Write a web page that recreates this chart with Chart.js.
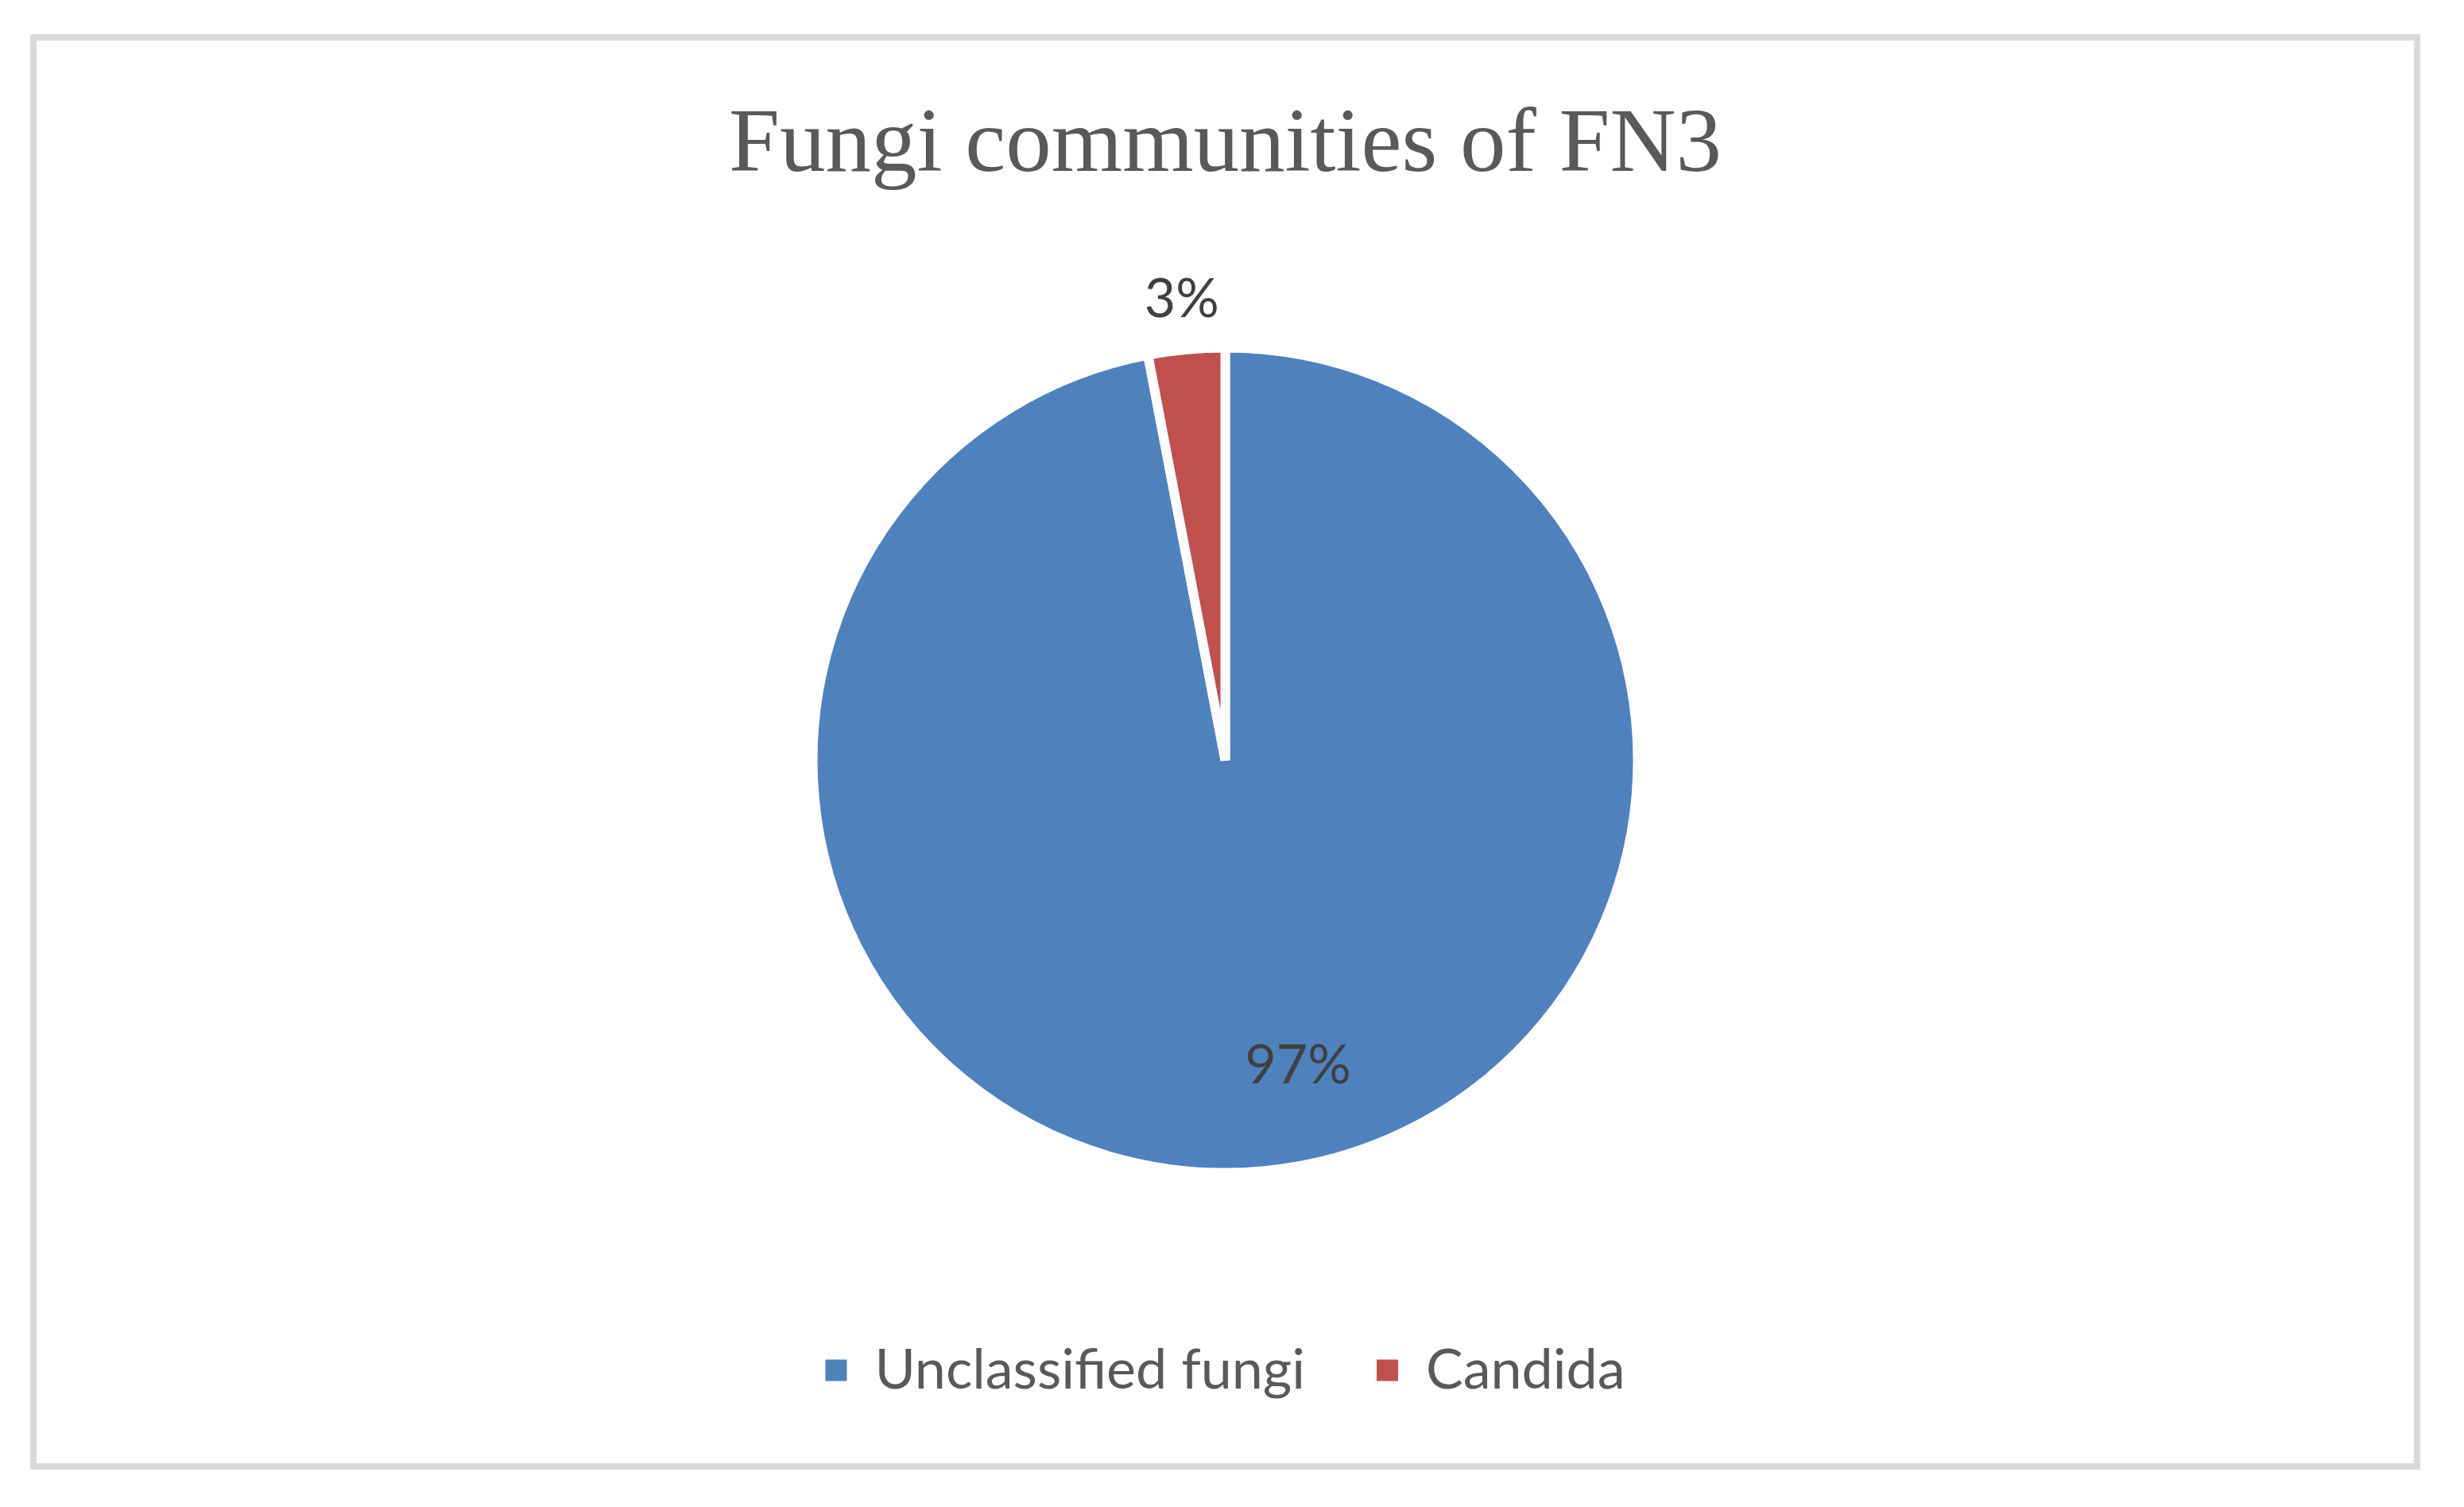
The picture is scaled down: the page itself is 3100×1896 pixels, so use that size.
<!DOCTYPE html>
<html>
<head>
<meta charset="utf-8">
<title>Fungi communities of FN3</title>
<script src="https://cdn.jsdelivr.net/npm/chart.js@4/dist/chart.umd.min.js"></script>
<style>
  html, body { margin: 0; padding: 0; background: #fff; }
  .wrap { position: relative; width: 3100px; height: 1896px; }
  .frame {
    position: absolute; left: 38px; top: 43px;
    width: 3007px; height: 1806px;
    box-sizing: border-box; border: 8px solid #d9d9d9;
  }
  canvas { position: absolute; left: 0; top: 0; }
</style>
</head>
<body>
<div class="wrap">
  <div class="frame"></div>
  <canvas id="chart" width="3100" height="1896"></canvas>
</div>
<script>
const chartTitle = 'Fungi communities of FN3'
const categories = ['Unclassified fungi', 'Candida']
const shares = [97, 3]
const colors = ['#4F81BD', '#C0504D']

// where each percent label sits: fraction of radius, angle nudge in degrees
const labelPlacement = [
  { r: 0.77, nudge: -8 },
  { r: 1.135, nudge: 0 }
]

const percentLabels = {
  id: 'percentLabels',
  afterDatasetsDraw(chart) {
    const ctx = chart.ctx
    const meta = chart.getDatasetMeta(0)
    ctx.save()
    ctx.font = '68px Lato'
    ctx.fillStyle = '#404040'
    ctx.textAlign = 'center'
    ctx.textBaseline = 'middle'
    meta.data.forEach((arc, i) => {
      const p = arc.getProps(['x', 'y', 'startAngle', 'endAngle', 'outerRadius'], true)
      const place = labelPlacement[i]
      const mid = (p.startAngle + p.endAngle) / 2 + place.nudge * Math.PI / 180
      const r = (p.outerRadius - 6) * place.r
      ctx.fillText(`${shares[i]}%`, p.x + Math.cos(mid) * r, p.y + Math.sin(mid) * r)
    })
    ctx.restore()
  }
}

const ctx = document.getElementById('chart')
const chart = new Chart(ctx, {
  type: 'pie',
  data: {
    labels: categories,
    datasets: [{
      data: shares,
      backgroundColor: colors,
      borderColor: '#ffffff',
      borderWidth: 12
    }]
  },
  plugins: [percentLabels],
  options: {
    responsive: false,
    animation: false,
    radius: 519,
    layout: { padding: { left: 0, right: 17, top: 0, bottom: 127 } },
    plugins: {
      title: {
        display: true,
        text: chartTitle,
        color: '#595959',
        font: { family: '"Liberation Serif", "Times New Roman", serif', size: 115, weight: 'normal', lineHeight: 1 },
        padding: { top: 127, bottom: 72 }
      },
      legend: {
        position: 'bottom',
        labels: {
          color: '#595959',
          font: { family: 'Lato', size: 70 },
          boxWidth: 27,
          boxHeight: 27,
          padding: 90,
          generateLabels(chart) {
            const items = Chart.overrides.pie.plugins.legend.labels.generateLabels(chart)
            items.forEach(item => { item.lineWidth = 0; item.strokeStyle = item.fillStyle })
            return items
          }
        }
      },
      tooltip: { enabled: false }
    }
  }
})
</script>
</body>
</html>
